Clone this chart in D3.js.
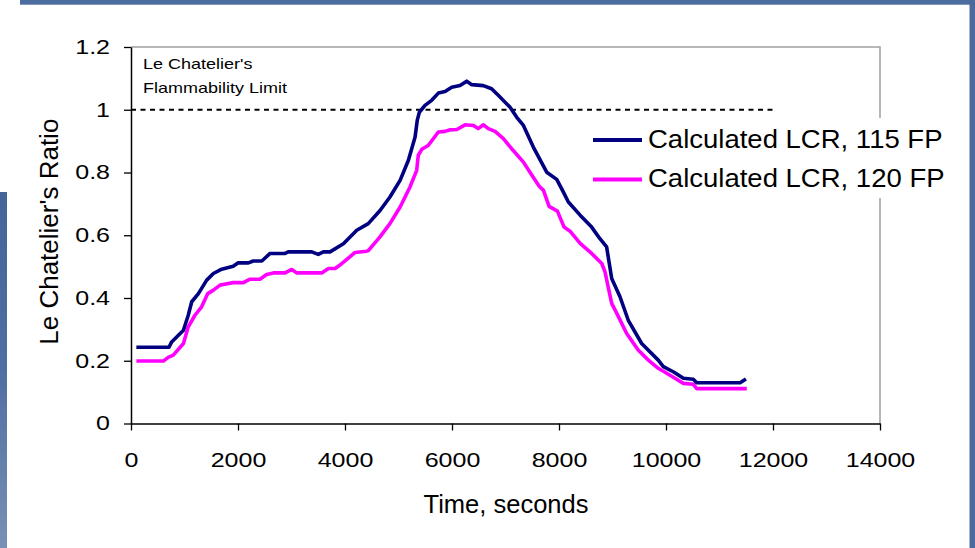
<!DOCTYPE html>
<html>
<head>
<meta charset="utf-8">
<script src="https://cdn.jsdelivr.net/npm/d3@7"></script>
<style>
  html, body { margin: 0; padding: 0; background: #ffffff; }
  svg { display: block; font-family: Arial, "Liberation Sans", Helvetica, sans-serif; }
</style>
</head>
<body>
<svg id="chart" width="975" height="548"></svg>
<script>
// ---- data ----
const seriesNames = ["Calculated LCR, 115 FP", "Calculated LCR, 120 FP"];
const seriesColors = ["#000080", "#ff00ff"];

const time115 = [100, 710, 760, 980, 1070, 1135, 1260, 1415, 1540, 1695, 1910, 2005, 2195, 2285, 2445, 2600, 2880, 2940, 3380, 3500, 3595, 3720, 3970, 4220, 4435, 4655, 4840, 5030, 5185, 5310, 5350, 5390, 5495, 5620, 5745, 5870, 5995, 6150, 6275, 6370, 6585, 6740, 6865, 7085, 7210, 7335, 7520, 7585, 7770, 7957, 8080, 8175, 8395, 8610, 8765, 8890, 8985, 9140, 9295, 9545, 9855, 9950, 10135, 10325, 10510, 10575, 11385, 11495];
const lcr115 = [0.243, 0.243, 0.26, 0.297, 0.345, 0.388, 0.414, 0.457, 0.478, 0.492, 0.501, 0.512, 0.512, 0.518, 0.518, 0.542, 0.542, 0.547, 0.547, 0.539, 0.547, 0.547, 0.573, 0.616, 0.637, 0.679, 0.722, 0.775, 0.839, 0.913, 0.966, 0.992, 1.014, 1.030, 1.053, 1.058, 1.072, 1.077, 1.091, 1.080, 1.077, 1.067, 1.046, 1.008, 0.976, 0.950, 0.881, 0.860, 0.801, 0.778, 0.738, 0.706, 0.664, 0.626, 0.589, 0.563, 0.462, 0.404, 0.329, 0.255, 0.202, 0.181, 0.165, 0.144, 0.141, 0.130, 0.130, 0.142];

const time120 = [100, 605, 695, 790, 980, 1070, 1195, 1320, 1435, 1540, 1665, 1820, 1910, 2100, 2225, 2410, 2535, 2660, 2880, 3005, 3095, 3565, 3690, 3815, 3905, 4187, 4405, 4440, 4654, 4840, 5030, 5215, 5340, 5370, 5435, 5555, 5745, 5870, 5965, 6090, 6245, 6400, 6490, 6585, 6680, 6805, 6960, 7145, 7335, 7460, 7630, 7710, 7815, 7970, 8095, 8206, 8395, 8610, 8800, 8860, 8920, 8985, 9080, 9265, 9480, 9670, 9855, 10075, 10325, 10510, 10575, 11510];
const lcr120 = [0.199, 0.199, 0.211, 0.218, 0.255, 0.308, 0.345, 0.372, 0.414, 0.425, 0.441, 0.446, 0.449, 0.449, 0.46, 0.46, 0.475, 0.48, 0.48, 0.491, 0.48, 0.48, 0.494, 0.494, 0.505, 0.545, 0.549, 0.552, 0.595, 0.637, 0.69, 0.754, 0.807, 0.855, 0.874, 0.886, 0.929, 0.931, 0.936, 0.937, 0.952, 0.950, 0.940, 0.952, 0.940, 0.931, 0.908, 0.870, 0.833, 0.80, 0.756, 0.743, 0.692, 0.677, 0.626, 0.613, 0.574, 0.542, 0.510, 0.483, 0.435, 0.383, 0.351, 0.287, 0.234, 0.202, 0.176, 0.154, 0.128, 0.125, 0.111, 0.111];

const xTicks = [0, 2000, 4000, 6000, 8000, 10000, 12000, 14000];
const yTicks = [0, 0.2, 0.4, 0.6, 0.8, 1, 1.2];
const limitValue = 1;
const limitEnd = 12000;
const annotationLines = ["Le Chatelier's", "Flammability Limit"];
const xTitle = "Time, seconds";
const yTitle = "Le Chatelier's Ratio";

// ---- drawing ----
const svg = d3.select("#chart");

// decorative slide background
const defs = svg.append("defs");
const grad = defs.append("linearGradient").attr("id", "leftStrip")
  .attr("x1", 0).attr("y1", 0).attr("x2", 0).attr("y2", 1);
grad.append("stop").attr("offset", "0%").attr("stop-color", "#45659a");
grad.append("stop").attr("offset", "50%").attr("stop-color", "#4f6fa2");
grad.append("stop").attr("offset", "100%").attr("stop-color", "#7890b4");

svg.append("rect").attr("x", 0).attr("y", 0).attr("width", 975).attr("height", 548).attr("fill", "#ffffff");
svg.append("rect").attr("x", 20).attr("y", 0).attr("width", 955).attr("height", 4.7).attr("fill", "#4d6c9f");
svg.append("rect").attr("x", 969.5).attr("y", 0).attr("width", 6).attr("height", 548).attr("fill", "#4a6a9d");
svg.append("rect").attr("x", 0).attr("y", 192).attr("width", 7).attr("height", 356).attr("fill", "url(#leftStrip)");

const x = d3.scaleLinear().domain([0, 14000]).range([131, 880]);
const y = d3.scaleLinear().domain([0, 1.2]).range([423.5, 47]);

function stretch(sel, k) {
  sel.each(function () {
    const w = this.getComputedTextLength();
    d3.select(this).attr("textLength", w * k).attr("lengthAdjust", "spacingAndGlyphs");
  });
}

// frame (top + right, gray)
svg.append("path")
  .attr("d", `M${x(0)},${y(1.2)}H${x(14000)}V${y(0)}`)
  .attr("fill", "none").attr("stroke", "#a0a0a0").attr("stroke-width", 1.5);

// axes
const gx = svg.append("g").attr("transform", `translate(0,${y(0)})`)
  .call(d3.axisBottom(x).tickValues(xTicks).tickFormat(d3.format("d")).tickSize(7).tickSizeOuter(0).tickPadding(22.6));
const gy = svg.append("g").attr("transform", `translate(${x(0)},0)`)
  .call(d3.axisLeft(y).tickValues(yTicks).tickFormat(d => String(+d.toFixed(1))).tickSize(7).tickSizeOuter(0).tickPadding(14));

[gx, gy].forEach(g => {
  g.select(".domain").attr("stroke", "#000").attr("stroke-width", 1.5);
  g.selectAll(".tick line").attr("stroke", "#000").attr("stroke-width", 1.3);
  g.selectAll(".tick text").attr("fill", "#000").attr("font-size", 20)
    .attr("font-family", "Arial, 'Liberation Sans', sans-serif");
});
stretch(gx.selectAll(".tick text"), 1.25);
stretch(gy.selectAll(".tick text"), 1.25);

// flammability limit dashed line
svg.append("line")
  .attr("x1", x(0)).attr("x2", x(limitEnd))
  .attr("y1", y(limitValue)).attr("y2", y(limitValue))
  .attr("stroke", "#000").attr("stroke-width", 1.8).attr("stroke-dasharray", "5,4.5");

// annotation
const ann = svg.append("g");
annotationLines.forEach((t, i) => {
  ann.append("text").attr("x", 143).attr("y", 68.5 + i * 24.3)
    .attr("font-size", 15).attr("fill", "#000").text(t);
});
stretch(ann.selectAll("text"), 1.2);

// series lines
const line = d3.line().x(d => x(d[0])).y(d => y(d[1]));
const data115 = time115.map((t, i) => [t, lcr115[i]]);
const data120 = time120.map((t, i) => [t, lcr120[i]]);

svg.append("path").datum(data120).attr("d", line)
  .attr("fill", "none").attr("stroke", seriesColors[1]).attr("stroke-width", 3.6)
  .attr("stroke-linejoin", "round");
svg.append("path").datum(data115).attr("d", line)
  .attr("fill", "none").attr("stroke", seriesColors[0]).attr("stroke-width", 3.6)
  .attr("stroke-linejoin", "round");

// legend
const leg = svg.append("g");
leg.append("rect").attr("x", 586).attr("y", 118).attr("width", 372).attr("height", 80).attr("fill", "#ffffff");
seriesNames.forEach((name, i) => {
  const ly = 140 + i * 39.5;
  leg.append("line").attr("x1", 593).attr("x2", 642).attr("y1", ly).attr("y2", ly)
    .attr("stroke", seriesColors[i]).attr("stroke-width", 4);
  leg.append("text").attr("class", "lt").attr("x", 648).attr("y", ly + 7.5)
    .attr("font-size", 25).attr("fill", "#000").text(name);
});
stretch(leg.selectAll("text.lt"), 1.1);

// axis titles
svg.append("text").attr("x", 506).attr("y", 512.7).attr("text-anchor", "middle")
  .attr("font-size", 25.5).attr("fill", "#000").text(xTitle);
svg.append("text").attr("transform", "translate(58,231.7) rotate(-90)").attr("text-anchor", "middle")
  .attr("font-size", 26).attr("fill", "#000").text(yTitle);
</script>
</body>
</html>
